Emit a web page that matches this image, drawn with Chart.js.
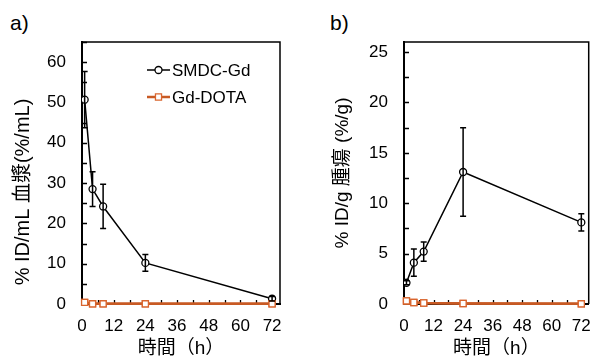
<!DOCTYPE html>
<html>
<head>
<meta charset="utf-8">
<script src="https://cdn.jsdelivr.net/npm/chart.js@4.4.0/dist/chart.umd.min.js"></script>
<style>
  html, body { margin: 0; padding: 0; background: #fff; }
  #wrap { position: relative; width: 603px; height: 363px; overflow: hidden; }
  canvas { position: absolute; top: 0; }
  .tag { position: absolute; top: 11px; font: 21px 'Liberation Sans', Arial, sans-serif; line-height: 24px; color: #000; }
</style>
</head>
<body>
<div id="wrap">
  <div class="tag" style="left:10px">a)</div>
  <div class="tag" style="left:330px">b)</div>
  <canvas id="plasmaChart" width="300" height="363" style="left:0"></canvas>
  <canvas id="tumorChart" width="303" height="363" style="left:300px"></canvas>
</div>
<script>
// sampling times (h)
const hours = [1, 4, 8, 24, 72];
const xTickLabels = [0, 12, 24, 36, 48, 60, 72];

// a) plasma, %ID/mL
const plasmaSMDC = [50.7, 28.5, 24.2, 10.2, 1.3];
const plasmaSMDCErr = [7.0, 4.3, 5.5, 2.1, 0.55];
const plasmaDOTA = [0.4, 0.05, 0.05, 0.05, 0.05];

// b) tumour, %ID/g
const tumorSMDC = [2.1, 4.1, 5.2, 13.1, 8.1];
const tumorSMDCErr = [0.2, 1.35, 0.95, 4.4, 0.85];
const tumorDOTA = [0.3, 0.15, 0.1, 0.05, 0.02];

const seriesNames = ['SMDC-Gd', 'Gd-DOTA'];
const ORANGE = '#C85A24';
const FONT = "'Liberation Sans', Arial, 'Noto Sans CJK JP', sans-serif";

Chart.defaults.font.family = FONT;
Chart.defaults.color = '#000';

// frame, inward ticks, error bars, legend, y title
const boxPlugin = {
  id: 'box',
  beforeDatasetsDraw(chart) {
    const o = chart.options.plugins.box;
    const ctx = chart.ctx;
    const a = chart.chartArea;
    const x = chart.scales.x, y = chart.scales.y;
    ctx.save();
    ctx.strokeStyle = '#000';
    ctx.lineWidth = 1.5;
    ctx.beginPath();
    ctx.moveTo(a.left, a.top);
    ctx.lineTo(a.right, a.top);
    ctx.lineTo(a.right, a.bottom);
    ctx.stroke();

    ctx.lineWidth = 1.3;
    ctx.beginPath();
    for (let v = o.yMinor; v <= y.max; v += o.yMinor) {
      const py = Math.round(y.getPixelForValue(v)) + 0.5;
      ctx.moveTo(a.left, py);
      ctx.lineTo(a.left + 5, py);
    }
    for (let v = 6; v <= 72; v += 6) {
      const px = Math.round(x.getPixelForValue(v)) + 0.5;
      ctx.moveTo(px, a.bottom);
      ctx.lineTo(px, a.bottom - 4);
    }
    ctx.stroke();
    ctx.restore();
  },
  afterDatasetsDraw(chart) {
    const o = chart.options.plugins.box;
    const ctx = chart.ctx;
    const x = chart.scales.x, y = chart.scales.y;
    const vals = chart.data.datasets[0].data;
    ctx.save();

    // Gd-DOTA trace hugs the x axis: redraw it over the axis line
    const dota = chart.data.datasets[1];
    ctx.strokeStyle = dota.borderColor;
    ctx.lineWidth = dota.borderWidth;
    ctx.beginPath();
    dota.data.forEach((p, i) => {
      const px = x.getPixelForValue(p.x), py = y.getPixelForValue(p.y);
      if (i === 0) ctx.moveTo(px, py); else ctx.lineTo(px, py);
    });
    ctx.stroke();
    const meta = chart.getDatasetMeta(1);
    meta.data.forEach(pt => pt.draw(ctx));

    ctx.strokeStyle = '#000';
    ctx.lineWidth = 1.5;
    ctx.beginPath();
    vals.forEach((p, i) => {
      const e = o.err[i];
      const px = x.getPixelForValue(p.x);
      const top = y.getPixelForValue(p.y + e);
      const bot = y.getPixelForValue(p.y - e);
      ctx.moveTo(px, top); ctx.lineTo(px, bot);
      ctx.moveTo(px - 3, top); ctx.lineTo(px + 3, top);
      ctx.moveTo(px - 3, bot); ctx.lineTo(px + 3, bot);
    });
    ctx.stroke();

    // legend
    const lg = o.legend;
    chart.data.datasets.forEach((ds, i) => {
      const ly = lg.y[i];
      ctx.strokeStyle = ds.borderColor;
      ctx.lineWidth = ds.borderWidth;
      ctx.beginPath();
      ctx.moveTo(lg.x1, ly);
      ctx.lineTo(lg.x2, ly);
      ctx.stroke();
      ctx.fillStyle = ds.pointBackgroundColor;
      ctx.strokeStyle = ds.pointBorderColor;
      ctx.lineWidth = ds.pointBorderWidth;
      Chart.helpers.drawPoint(ctx, {
        pointStyle: ds.pointStyle, radius: ds.pointRadius, rotation: 0, borderWidth: ds.pointBorderWidth
      }, (lg.x1 + lg.x2) / 2, ly);
      ctx.fillStyle = '#000';
      ctx.font = '17px ' + FONT;
      ctx.textBaseline = 'middle';
      ctx.textAlign = 'left';
      ctx.fillText(ds.label, lg.x2 + 2, ly + 1);
    });

    // y axis title
    ctx.translate(o.yTitle.x, o.yTitle.y);
    ctx.rotate(-Math.PI / 2);
    ctx.font = o.yTitle.size + 'px ' + FONT;
    ctx.textAlign = 'center';
    ctx.textBaseline = 'middle';
    ctx.fillStyle = '#000';
    ctx.fillText(o.yTitle.text, 0, 0);
    ctx.restore();
  }
};

function toPoints(ys) {
  return hours.map((h, i) => ({ x: h, y: ys[i] }));
}

function makeChart(id, cfg) {
  const canvas = document.getElementById(id);
  const chartBottom = 304;
  return new Chart(canvas.getContext('2d'), {
    type: 'line',
    data: {
      datasets: [
        {
          label: seriesNames[0],
          data: toPoints(cfg.smdc),
          borderColor: '#000',
          borderWidth: 1.5,
          pointStyle: 'circle',
          pointRadius: 3.5,
          pointBorderWidth: 1.3,
          pointBorderColor: '#000',
          pointBackgroundColor: '#fff',
          tension: 0
        },
        {
          label: seriesNames[1],
          data: toPoints(cfg.dota),
          borderColor: ORANGE,
          borderWidth: 2.5,
          pointStyle: 'rect',
          pointRadius: 4.3,
          pointBorderWidth: 1.3,
          pointBorderColor: '#D9652E',
          pointBackgroundColor: '#fff',
          tension: 0,
          clip: false
        }
      ]
    },
    options: {
      responsive: false,
      animation: false,
      layout: { padding: { left: 0, top: 42, right: cfg.padRight, bottom: 0 } },
      plugins: {
        legend: { display: false },
        tooltip: { enabled: false },
        box: {
          yMinor: cfg.yMinor,
          err: cfg.err,
          legend: cfg.legend,
          yTitle: cfg.yTitle
        }
      },
      scales: {
        x: {
          type: 'linear',
          min: 0,
          max: 75,
          afterFit: (s) => { s.height = canvas.height - chartBottom; },
          afterBuildTicks: (s) => { s.ticks = xTickLabels.map(v => ({ value: v })); },
          grid: { display: false, drawTicks: false },
          border: { display: true, color: '#000', width: 2 },
          ticks: { font: { size: 17 }, padding: 12, maxRotation: 0 },
          title: { display: true, text: '時間（h）', font: { size: 19 }, padding: { top: 0, bottom: 3 } }
        },
        y: {
          min: 0,
          max: cfg.yMax,
          afterFit: (s) => { s.width = cfg.axisLeft; },
          afterBuildTicks: (s) => { s.ticks = cfg.yTicks.map(v => ({ value: v })); },
          grid: { display: false, drawTicks: false },
          border: { display: true, color: '#000', width: 2 },
          ticks: { font: { size: 17 }, padding: 16 }
        }
      }
    },
    plugins: [boxPlugin]
  });
}

makeChart('plasmaChart', {
  smdc: plasmaSMDC, dota: plasmaDOTA, err: plasmaSMDCErr,
  yMax: 65, yMinor: 5, yTicks: [0, 10, 20, 30, 40, 50, 60],
  axisLeft: 82, padRight: 20,
  legend: { x1: 147, x2: 170, y: [70, 97] },
  yTitle: { text: '% ID/mL 血漿(%/mL)', x: 23, y: 192, size: 20 }
});

makeChart('tumorChart', {
  smdc: tumorSMDC, dota: tumorDOTA, err: tumorSMDCErr,
  yMax: 26, yMinor: 2.5, yTicks: [0, 5, 10, 15, 20, 25],
  axisLeft: 104, padRight: 3,
  legend: { x1: 469, x2: 492, y: [69, 97] },
  yTitle: { text: '% ID/g 腫瘍 (%/g)', x: 43, y: 173, size: 19 }
});
</script>
</body>
</html>
